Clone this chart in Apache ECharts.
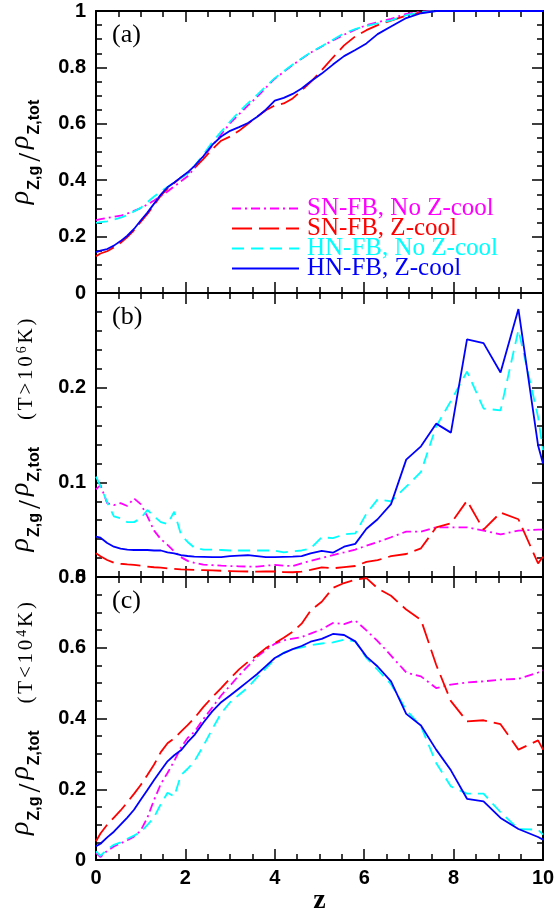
<!DOCTYPE html>
<html><head><meta charset="utf-8">
<script src="https://cdn.jsdelivr.net/npm/echarts@6/dist/echarts.min.js"></script>
<style>html,body{margin:0;padding:0;background:#fff}#c{width:556px;height:915px}</style>
</head><body><div id="c"></div>
<script>
// redshift sampling grid
const Z = [0,0.1,0.25,0.4,0.55,0.7,0.85,1.0,1.15,1.3,1.45,1.6,1.75,1.9,2.05,2.2,2.4,2.6,2.8,3.0,3.2,3.4,3.6,3.8,4.0,4.2,4.4,4.6,4.8,5.05,5.3,5.55,5.8,6.05,6.3,6.6,6.94,7.27,7.61,7.94,8.3,8.67,9.05,9.45,9.89,10];

const SERIES_NAMES = ['SN-FB, No Z-cool','SN-FB, Z-cool','HN-FB, No Z-cool','HN-FB, Z-cool'];

// panel (a): total gas
const aSNnc = [0.258,0.262,0.266,0.270,0.274,0.282,0.291,0.301,0.314,0.328,0.344,0.360,0.378,0.396,0.414,0.442,0.482,0.522,0.562,0.602,0.634,0.665,0.695,0.728,0.760,0.784,0.808,0.831,0.852,0.874,0.896,0.916,0.934,0.950,0.960,0.972,0.990,0.998,1,1,1,1,1,1,1,1];
const aSNzc = [0.130,0.140,0.148,0.162,0.178,0.198,0.222,0.252,0.280,0.312,0.345,0.370,0.390,0.410,0.425,0.443,0.475,0.510,0.540,0.555,0.575,0.600,0.624,0.648,0.665,0.672,0.690,0.718,0.748,0.790,0.835,0.878,0.910,0.932,0.950,0.966,0.984,0.994,1,1,1,1,1,1,1,1];
const aHNnc = [0.249,0.251,0.254,0.260,0.267,0.276,0.289,0.302,0.322,0.342,0.360,0.376,0.392,0.408,0.424,0.450,0.490,0.535,0.572,0.608,0.642,0.673,0.702,0.733,0.762,0.786,0.810,0.832,0.853,0.875,0.898,0.921,0.936,0.947,0.956,0.967,0.985,0.996,1,1,1,1,1,1,1,1];
const aHNzc = [0.145,0.150,0.156,0.168,0.184,0.203,0.227,0.257,0.285,0.317,0.349,0.375,0.392,0.410,0.428,0.450,0.485,0.525,0.555,0.575,0.588,0.603,0.624,0.650,0.682,0.692,0.706,0.725,0.750,0.778,0.810,0.840,0.862,0.885,0.918,0.945,0.975,0.992,1,1,1,1,1,1,1,1];

// panel (b): T > 1e6 K
const bSNnc = [0.0926,0.097,0.078,0.076,0.078,0.075,0.083,0.077,0.064,0.049,0.040,0.034,0.027,0.021,0.017,0.015,0.013,0.0125,0.012,0.0116,0.0113,0.011,0.011,0.012,0.0127,0.012,0.0116,0.0144,0.017,0.020,0.0232,0.026,0.029,0.033,0.037,0.042,0.048,0.048,0.0525,0.0525,0.0525,0.049,0.045,0.049,0.050,0.050];
const bSNzc = [0.025,0.022,0.018,0.015,0.014,0.0133,0.0128,0.012,0.011,0.0103,0.0098,0.009,0.0085,0.008,0.0078,0.0076,0.0073,0.007,0.0066,0.0063,0.006,0.0058,0.0056,0.0058,0.0058,0.0052,0.005,0.0056,0.0075,0.0102,0.0092,0.0105,0.0116,0.016,0.0178,0.022,0.0243,0.0303,0.0525,0.0567,0.0806,0.050,0.068,0.061,0.0144,0.0215];
const bHNnc = [0.106,0.096,0.079,0.064,0.062,0.058,0.058,0.062,0.0708,0.064,0.058,0.056,0.069,0.045,0.037,0.031,0.029,0.029,0.0285,0.028,0.028,0.028,0.028,0.028,0.028,0.026,0.027,0.028,0.030,0.042,0.041,0.045,0.046,0.067,0.082,0.080,0.0954,0.111,0.159,0.186,0.217,0.178,0.176,0.261,0.169,0.134];
const bHNzc = [0.0426,0.0415,0.036,0.032,0.030,0.029,0.0285,0.0285,0.0285,0.028,0.028,0.026,0.025,0.023,0.0222,0.0215,0.0213,0.021,0.021,0.022,0.0225,0.023,0.022,0.021,0.021,0.0213,0.0215,0.022,0.025,0.0275,0.0257,0.032,0.035,0.051,0.061,0.077,0.124,0.138,0.162,0.1525,0.251,0.247,0.216,0.283,0.139,0.120];

// panel (c): T < 1e4 K
const cSNnc = [0.020,0.008,0.026,0.038,0.047,0.056,0.066,0.083,0.120,0.170,0.215,0.246,0.280,0.318,0.345,0.362,0.398,0.431,0.465,0.493,0.522,0.548,0.574,0.594,0.611,0.621,0.626,0.630,0.640,0.652,0.670,0.667,0.677,0.649,0.619,0.578,0.530,0.519,0.486,0.496,0.502,0.505,0.510,0.512,0.530,0.536];
const cSNzc = [0.053,0.075,0.100,0.120,0.140,0.163,0.187,0.212,0.240,0.270,0.305,0.330,0.344,0.363,0.381,0.401,0.432,0.460,0.486,0.513,0.539,0.560,0.579,0.599,0.613,0.628,0.645,0.668,0.705,0.730,0.769,0.783,0.792,0.797,0.768,0.747,0.708,0.679,0.552,0.449,0.392,0.395,0.384,0.312,0.338,0.312];
const cHNnc = [0.0245,0.012,0.030,0.043,0.050,0.060,0.069,0.079,0.099,0.121,0.158,0.190,0.180,0.240,0.258,0.279,0.322,0.370,0.415,0.446,0.467,0.488,0.516,0.542,0.568,0.586,0.596,0.601,0.607,0.612,0.615,0.623,0.618,0.571,0.538,0.497,0.424,0.378,0.274,0.208,0.1875,0.1875,0.135,0.0876,0.0857,0.0716];
const cHNzc = [0.0386,0.046,0.064,0.080,0.100,0.120,0.142,0.170,0.198,0.226,0.253,0.279,0.296,0.310,0.333,0.353,0.388,0.420,0.446,0.465,0.485,0.505,0.525,0.548,0.571,0.585,0.596,0.605,0.617,0.625,0.639,0.636,0.618,0.575,0.547,0.505,0.413,0.380,0.312,0.2535,0.173,0.166,0.119,0.0876,0.065,0.0575];

const PANEL_LABELS = ['(a)','(b)','(c)'];
const Y_MAX = [1, 0.3, 0.8];
const Y_INTERVAL = [0.2, 0.1, 0.2];
const Y_MINOR = [4, 5, 4];

const COLORS = ['#ff00ff','#ff0000','#00ffff','#0000ff'];
const DASH = [[9,4,2,4],[20,7],[12,7],'solid'];

const chart = echarts.init(document.getElementById('c'));

const GRID_TOP = [11, 293, 577];
const GRID_H = [282, 284, 283];
const grids = GRID_TOP.map((t,i)=>({left:96, width:447, top:t, height:GRID_H[i], containLabel:false, outerBoundsMode:'none'}));

const numFont = {fontFamily:'Liberation Sans', fontWeight:'bold', fontSize:20, color:'#000'};
const axLine = {show:true, onZero:false, lineStyle:{color:'#000', width:2}};
const tickSty = {color:'#000', width:1.5};

const xAxes = [], yAxes = [];
for (let g=0; g<3; g++) {
  ['bottom','top'].forEach((pos,k)=>{
    xAxes.push({type:'value', gridIndex:g, position:pos, min:0, max:10, interval:2,
      axisLine:axLine, axisTick:{show:true, inside:true, length:11, lineStyle:tickSty},
      minorTick:{show:true, splitNumber:4, length:6, lineStyle:tickSty},
      splitLine:{show:false}, minorSplitLine:{show:false},
      axisLabel: Object.assign({show: g===2 && k===0, margin:8}, numFont),
      name: (g===2 && k===0) ? 'z' : '', nameLocation:'middle', nameGap:27, nameMoveOverlap:false,
      nameTextStyle:{fontFamily:'Liberation Serif', fontWeight:'bold', fontSize:28, color:'#000'}
    });
  });
  ['left','right'].forEach((pos,k)=>{
    yAxes.push({type:'value', gridIndex:g, position:pos, min:0, max:Y_MAX[g], interval:Y_INTERVAL[g],
      axisLine:axLine, axisTick:{show:true, inside:true, length:11, lineStyle:tickSty},
      minorTick:{show:true, splitNumber:Y_MINOR[g], length:6, lineStyle:tickSty},
      splitLine:{show:false}, minorSplitLine:{show:false},
      axisLabel: Object.assign({show:k===0, margin:10, showMaxLabel: g!==1}, numFont)
    });
  });
}

const panels = [[aSNnc,aSNzc,aHNnc,aHNzc],[bSNnc,bSNzc,bHNnc,bHNzc],[cSNnc,cSNzc,cHNnc,cHNzc]];
const series = [];
panels.forEach((arrs,g)=>{
  arrs.forEach((arr,s)=>{
    series.push({name:SERIES_NAMES[s], type:'line', xAxisIndex:g*2, yAxisIndex:g*2,
      data: Z.map((z,i)=>[z,arr[i]]), symbol:'none', showSymbol:false, clip:true,
      lineStyle:{color:COLORS[s], width:1.8, type:DASH[s]}, itemStyle:{color:COLORS[s]},
      animation:false, emphasis:{disabled:true}});
  });
});

// y-axis titles laid out with measured text
const cv = document.createElement('canvas').getContext('2d');
function measure(t,f){cv.font=f;return cv.measureText(t).width;}
const SERIF = '"Liberation Serif"', SANS = '"Liberation Sans"';
function titleGroup(cy, extra) {
  const P = [
    {t:'ρ', fs:28, f:'italic 28px '+SERIF, b:30, gap:1},
    {t:'Z,g', fs:16, f:'bold 16px '+SANS, b:40, gap:4},
    {t:'/', fs:32, f:'32px '+SERIF, b:42, gap:4},
    {t:'ρ', fs:28, f:'italic 28px '+SERIF, b:30, gap:1},
    {t:'Z,tot', fs:16, f:'bold 16px '+SANS, b:40, gap:0}
  ];
  if (extra) {
    P[P.length-1].gap = 27;
    const chars = ['(', 'T', extra.sign, '1', '0'];
    chars.forEach(c=>P.push({t:c, fs:21, f:'21px '+SERIF, b:34, gap:2.8}));
    P.push({t:extra.exp, fs:14, f:'14px '+SERIF, b:27, gap:2.8});
    P.push({t:'K', fs:21, f:'21px '+SERIF, b:34, gap:2.8});
    P.push({t:')', fs:21, f:'21px '+SERIF, b:34, gap:0});
  }
  let L = 0; P.forEach(p=>{p.w = measure(p.t,p.f); L += p.w + p.gap;});
  let x = -L/2; const children = [];
  P.forEach(p=>{
    children.push({type:'text', x:x, y:p.b - 0.3375*p.fs, silent:true,
      style:{text:p.t, font:p.f, fill:'#000', align:'left', verticalAlign:'middle'}});
    x += p.w + p.gap;
  });
  return {type:'group', x:0, y:cy, rotation:Math.PI/2, children:children};
}

const graphic = [
  titleGroup(GRID_TOP[0]+GRID_H[0]/2, null),
  titleGroup(GRID_TOP[1]+GRID_H[1]/2, {sign:'>', exp:'6'}),
  titleGroup(GRID_TOP[2]+GRID_H[2]/2, {sign:'<', exp:'4'})
];
PANEL_LABELS.forEach((lab,g)=>{
  graphic.push({type:'text', x:112, y:GRID_TOP[g]+24, silent:true,
    style:{text:lab, font:'26px '+SERIF, fill:'#000', verticalAlign:'middle'}});
});

chart.setOption({
  animation:false,
  backgroundColor:'#fff',
  textStyle:{fontFamily:'Liberation Sans'},
  grid:grids, xAxis:xAxes, yAxis:yAxes, series:series,
  legend:{show:true, left:231, top:196, orient:'vertical', itemGap:-5, itemWidth:67, itemHeight:14,
    selectedMode:false, padding:0,
    itemStyle:{opacity:0, borderWidth:0},
    textStyle:{fontFamily:'Liberation Serif', fontSize:25, padding:[0,0,0,3]},
    data: SERIES_NAMES.map((n,i)=>({name:n, textStyle:{color:COLORS[i]}}))},
  graphic:graphic
});
</script></body></html>
